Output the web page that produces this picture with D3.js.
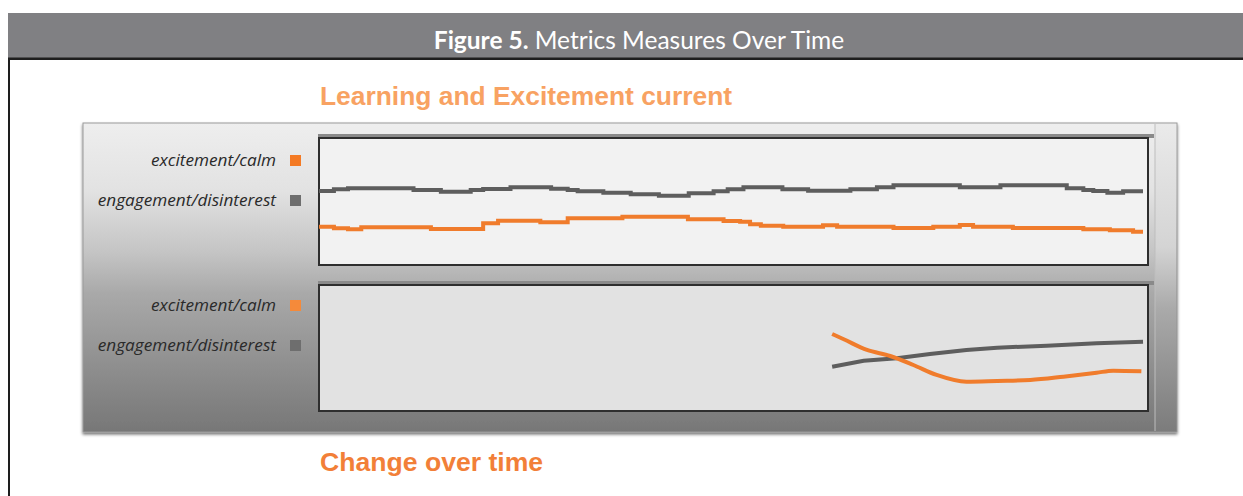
<!DOCTYPE html>
<html>
<head>
<meta charset="utf-8">
<script src="https://cdn.jsdelivr.net/npm/d3@7"></script>
<style>
  html, body { margin: 0; padding: 0; background: #ffffff; }
  svg { display: block; }
</style>
</head>
<body>
<svg id="chart" width="1243" height="496"></svg>
<script>
// ---------------- DATA ----------------
const figureLabel = "Figure 5.";
const figureTitle = " Metrics Measures Over Time";
const topTitle = "Learning and Excitement current";
const bottomTitle = "Change over time";
const seriesNames = ["excitement/calm", "engagement/disinterest"];

// Top panel ("current"): step series, time 0..100, level 0..100
const engagementTopTime  = [0, 1.8, 3.5, 11.4, 14.7, 18.3, 19.8, 23.1, 28.0, 30.0, 31.2, 34.3, 37.6, 41.0, 44.6, 47.6, 49.3, 51.2, 55.9, 59.0, 64.1, 67.3, 69.3, 77.3, 82.2, 90.2, 92.2, 93.4, 95.1, 97.0, 99.4];
const engagementTopValue = [57.4, 58.7, 59.5, 58.1, 56.8, 58.1, 58.9, 60.2, 59.1, 58.1, 57.1, 56.0, 54.8, 53.7, 55.6, 57.1, 58.7, 60.2, 58.7, 57.6, 58.7, 60.2, 61.8, 60.2, 61.8, 59.5, 58.1, 57.4, 56.0, 57.1, 57.1];
const excitementTopTime  = [0, 1.8, 3.5, 5.1, 13.5, 19.8, 21.6, 26.7, 30.0, 36.6, 44.5, 48.8, 50.8, 52.0, 53.3, 56.0, 60.8, 62.5, 69.3, 74.1, 77.3, 78.9, 83.7, 92.2, 95.4, 98.2, 99.4];
const excitementTopValue = [29.7, 28.4, 27.7, 29.2, 27.9, 32.3, 34.3, 33.1, 36.2, 37.4, 35.4, 34.1, 33.6, 31.6, 30.5, 29.7, 30.8, 29.7, 28.7, 29.7, 31.0, 29.7, 28.7, 27.7, 26.9, 25.8, 25.8];

// Bottom panel ("change over time")
const excitementChangeTime  = [61.9, 63.3, 66.1, 68.9, 71.7, 74.5, 78.1, 81.8, 85.8, 89.8, 93.8, 95.8, 99.2];
const excitementChangeValue = [61.8, 57.5, 48.8, 43.9, 36.6, 28.5, 23.0, 23.6, 24.4, 27.1, 30.3, 32.0, 31.5];
const engagementChangeTime  = [61.9, 65.7, 69.7, 73.7, 78.1, 81.8, 87.8, 93.8, 99.4];
const engagementChangeValue = [35.2, 40.1, 42.0, 45.5, 48.8, 50.7, 52.3, 54.2, 55.5];

// ---------------- DRAW ----------------
const svg = d3.select("#chart");
const ORANGE = "#f07c2c", GREY = "#5e5e5e";

const defs = svg.append("defs");
const pg = defs.append("linearGradient").attr("id", "panelGrad").attr("x1", 0).attr("y1", 0).attr("x2", 0).attr("y2", 1);
[[0, "#eeeeee"], [0.22, "#e2e2e2"], [0.42, "#c4c4c4"], [0.55, "#a9a9a9"], [1, "#777777"]]
  .forEach(([o, c]) => pg.append("stop").attr("offset", o).attr("stop-color", c));
const rg = defs.append("linearGradient").attr("id", "rightGrad").attr("x1", 0).attr("y1", 0).attr("x2", 0).attr("y2", 1);
[[0, "#eaeaea"], [0.4, "#d4d4d4"], [0.6, "#aaaaaa"], [1, "#7c7c7c"]]
  .forEach(([o, c]) => rg.append("stop").attr("offset", o).attr("stop-color", c));
const sh = defs.append("filter").attr("id", "shadow").attr("x", "-5%").attr("y", "-5%").attr("width", "110%").attr("height", "120%");
sh.append("feDropShadow").attr("dx", 0).attr("dy", 2).attr("stdDeviation", 1.5).attr("flood-color", "#000").attr("flood-opacity", 0.55);

// header bar
svg.append("rect").attr("x", 8).attr("y", 13).attr("width", 1235).attr("height", 45).attr("fill", "#808083");
svg.append("rect").attr("x", 8).attr("y", 57.5).attr("width", 1235).attr("height", 2.5).attr("fill", "#1e1e1e");
svg.append("rect").attr("x", 8).attr("y", 58).attr("width", 2).attr("height", 438).attr("fill", "#1e1e1e");

const title = svg.append("text").attr("x", 639).attr("y", 48.5).attr("text-anchor", "middle")
  .attr("font-family", "Lato, 'Open Sans', sans-serif").attr("font-size", 24.5).attr("fill", "#ffffff");
title.append("tspan").attr("font-weight", "bold").text(figureLabel);
title.append("tspan").attr("font-weight", "normal").text(figureTitle);

// subtitles
svg.append("text").attr("x", 320).attr("y", 105).attr("font-family", "'Liberation Sans', Arial, sans-serif")
  .attr("font-weight", "bold").attr("font-size", 26.4).attr("fill", "#f8a262").text(topTitle);
svg.append("text").attr("x", 320).attr("y", 471).attr("font-family", "'Liberation Sans', Arial, sans-serif")
  .attr("font-weight", "bold").attr("font-size", 26.6).attr("fill", "#f27f38").text(bottomTitle);

// panel
svg.append("rect").attr("x", 83).attr("y", 123).attr("width", 1094).attr("height", 309)
  .attr("fill", "url(#panelGrad)").attr("stroke", "#9a9a9a").attr("stroke-width", 1).attr("filter", "url(#shadow)");
svg.append("rect").attr("x", 1155).attr("y", 124).attr("width", 21).attr("height", 307).attr("fill", "url(#rightGrad)");
svg.append("line").attr("x1", 1155).attr("x2", 1155).attr("y1", 124).attr("y2", 431).attr("stroke", "#bdbdbd").attr("stroke-width", 1);

const x = d3.scaleLinear().domain([0, 100]).range([319, 1148]);

const plots = [
  { top: 138, bottom: 265, yRange: [265, 136], bg: "#f2f2f2",
    series: [
      { t: engagementTopTime, v: engagementTopValue, color: GREY, curve: d3.curveStepAfter },
      { t: excitementTopTime, v: excitementTopValue, color: ORANGE, curve: d3.curveStepAfter }
    ], legendY: [160, 200] },
  { top: 285, bottom: 411, yRange: [410, 287], bg: "#e2e2e2",
    series: [
      { t: engagementChangeTime, v: engagementChangeValue, color: GREY, curve: d3.curveLinear },
      { t: excitementChangeTime, v: excitementChangeValue, color: ORANGE, curve: d3.curveMonotoneX }
    ], legendY: [305, 345] }
];

plots.forEach((p, pi) => {
  const y = d3.scaleLinear().domain([0, 100]).range(p.yRange);
  // top bevel bar
  svg.append("rect").attr("x", 318).attr("y", p.top - 4).attr("width", 836).attr("height", 4).attr("fill", "#8a8a8a");
  svg.append("rect").attr("x", 319).attr("y", p.top).attr("width", 829).attr("height", p.bottom - p.top)
    .attr("fill", p.bg).attr("stroke", "#2e2e2e").attr("stroke-width", 2);
  const g = svg.append("g");
  p.series.forEach(s => {
    const pts = s.t.map((t, i) => [t, s.v[i]]);
    const line = d3.line().x(d => x(d[0])).y(d => y(d[1])).curve(s.curve);
    g.append("path").attr("d", line(pts)).attr("fill", "none").attr("stroke", s.color)
      .attr("stroke-width", 4).attr("stroke-linejoin", "miter").attr("stroke-linecap", "butt");
  });
  // legend
  const colors = [ORANGE, "#6e6e6e"];
  seriesNames.forEach((name, i) => {
    svg.append("text").attr("x", 276).attr("y", p.legendY[i] + 6).attr("text-anchor", "end")
      .attr("font-family", "'Open Sans', 'DejaVu Sans', sans-serif").attr("font-style", "italic")
      .attr("font-size", 17.2).attr("fill", "#2a2a2a").text(name);
    svg.append("rect").attr("x", 290).attr("y", p.legendY[i] - 5).attr("width", 11).attr("height", 11)
      .attr("fill", i === 0 ? (pi === 0 ? "#f47a24" : "#f58a3a") : colors[1]);
  });
});
</script>
</body>
</html>
